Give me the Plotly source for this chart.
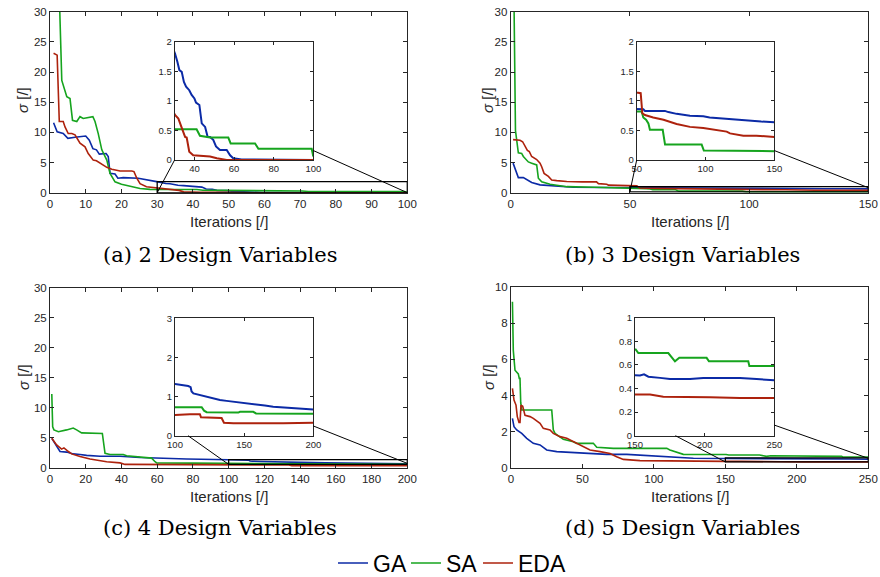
import plotly.graph_objects as go

# ---------------- data ----------------
# Panel (a) 2 design variables
ga_a_x = [1, 2, 3.7, 5, 7, 9, 10, 11, 12, 13, 13.8, 15.7, 16.3, 16.8, 18.2, 19, 20.5, 24.7, 27, 29, 30.2, 31.4, 32.4, 33.6, 34.7, 35.8, 37.4, 38.6, 40, 40.8, 42.5, 43.7, 45.4, 46.7, 47.9, 49.5, 50.9, 52.9, 56.3, 58, 59.6, 63.8, 100]
ga_a_y = [11.6, 10.1, 9.8, 9.0, 9.2, 9.3, 9.4, 8.7, 7.3, 7.1, 6.4, 6.5, 6.0, 3.2, 3.1, 2.4, 2.5, 2.4, 2.1, 1.9, 1.80, 1.66, 1.52, 1.49, 1.32, 1.24, 1.18, 1.10, 1.04, 0.97, 0.93, 0.62, 0.56, 0.39, 0.39, 0.34, 0.23, 0.17, 0.17, 0.08, 0.03, 0.01, 0.0]
sa_a_x = [1, 2, 3.3, 4.2, 4.7, 5.6, 6.3, 7.5, 8.4, 9.3, 10.7, 12, 12.6, 13.5, 14.5, 15.9, 16.8, 18.2, 20, 22.4, 25.2, 28, 30.2, 41.1, 42.8, 47.9, 57.1, 58.3, 70.6, 72.3, 99.2, 100]
sa_a_y = [60, 45, 18.6, 17, 15.9, 15.6, 12.0, 11.8, 12.6, 12.3, 12.5, 12.6, 11.8, 9.8, 7.1, 5.4, 3.2, 1.8, 1.4, 1.1, 0.7, 0.55, 0.52, 0.52, 0.41, 0.38, 0.38, 0.28, 0.28, 0.19, 0.19, 0.06]
eda_a_x = [1, 2, 2.6, 3.7, 4.2, 5.1, 6.1, 7, 8.4, 9.8, 10.7, 12.1, 13, 14, 15.9, 17.3, 19.6, 22.9, 23.5, 24.3, 25.2, 27, 30.2, 31.9, 33.6, 35.3, 36.1, 37.4, 39.4, 42, 47.9, 51.3, 56.3, 100]
eda_a_y = [23.1, 22.8, 11.8, 11.8, 10.9, 9.8, 9.8, 9.6, 8.2, 7.6, 6.5, 5.4, 5.3, 4.9, 4.2, 3.9, 3.6, 3.6, 3.5, 2.4, 1.5, 1.0, 0.76, 0.70, 0.56, 0.39, 0.38, 0.14, 0.08, 0.07, 0.06, 0.03, 0.0, 0.0]

# Panel (b) 3 design variables
ga_b_x = [1, 3.2, 5.3, 7, 8.8, 12.3, 17.9, 26.3, 40, 50, 54.8, 56, 70.5, 73, 79, 88.7, 98.4, 103, 113, 122.6, 132, 140.5, 150]
ga_b_y = [4.9, 2.5, 2.5, 2.1, 1.7, 1.3, 1.1, 0.9, 0.87, 0.86, 0.86, 0.83, 0.83, 0.81, 0.78, 0.75, 0.74, 0.72, 0.70, 0.68, 0.66, 0.65, 0.64]
sa_b_x = [1, 2, 3.2, 4.6, 5.3, 7.4, 8.8, 10.9, 11.6, 13, 16.5, 19.3, 23.5, 35, 50, 53.6, 54.8, 56.8, 58.5, 59.6, 68.9, 70.6, 97.2, 98.8, 150]
sa_b_y = [45, 10.3, 6.6, 6.5, 6.0, 5.1, 4.9, 4.6, 2.4, 1.8, 1.4, 1.2, 1.0, 0.9, 0.82, 0.82, 0.72, 0.68, 0.62, 0.51, 0.51, 0.26, 0.26, 0.16, 0.15]
eda_b_x = [1, 3.9, 5, 6, 7, 7.8, 8.8, 10.9, 12.3, 13, 14, 15.8, 17.2, 19.3, 23.5, 30, 36, 36.8, 40.3, 41, 48, 50, 52.9, 54.1, 56, 62, 69.5, 79, 88.7, 98.4, 105.7, 115.4, 117.8, 127.5, 137, 150]
eda_b_y = [8.8, 8.7, 8.45, 7.6, 7.0, 6.8, 6.0, 5.5, 4.9, 4.3, 3.2, 2.7, 2.1, 2.0, 1.85, 1.8, 1.8, 1.5, 1.4, 1.25, 1.15, 1.14, 1.13, 0.79, 0.76, 0.72, 0.68, 0.61, 0.56, 0.54, 0.51, 0.48, 0.45, 0.41, 0.41, 0.39]

# Panel (c) 4 design variables
ga_c_x = [1, 3.7, 5.6, 9.3, 13, 16.8, 20.5, 28, 39.2, 50.4, 61.6, 76.5, 100, 103.6, 109.6, 111.3, 112, 113.3, 118, 124, 128.9, 132.5, 137.3, 147, 154.2, 161.4, 165, 171, 178.3, 187.9, 200]
ga_c_y = [4.9, 3.5, 2.7, 2.6, 2.3, 2.2, 2.05, 1.9, 1.9, 1.7, 1.55, 1.45, 1.32, 1.30, 1.27, 1.24, 1.13, 1.08, 1.04, 0.98, 0.95, 0.91, 0.89, 0.85, 0.82, 0.80, 0.77, 0.74, 0.72, 0.70, 0.67]
sa_c_x = [1, 1.5, 2.2, 4.7, 9.3, 13, 14.9, 17.7, 29.3, 30.8, 33.6, 41, 42.9, 50.4, 56.9, 58.8, 59.7, 80, 100, 119.3, 121, 122.9, 145.8, 147, 156.6, 158.6, 200]
sa_c_y = [12.3, 6.8, 6.3, 6.0, 6.3, 6.6, 6.3, 5.8, 5.7, 2.4, 2.2, 2.2, 2.0, 1.8, 1.6, 1.0, 0.8, 0.76, 0.73, 0.73, 0.64, 0.60, 0.59, 0.61, 0.61, 0.57, 0.56]
eda_c_x = [1, 3.7, 6.5, 7.8, 10.3, 12.1, 16.8, 22.4, 31.7, 39.2, 42, 84, 100, 110.8, 118, 118.8, 133.7, 135.4, 142.2, 178.3, 200]
eda_c_y = [4.9, 3.8, 3.1, 3.3, 2.7, 2.3, 1.85, 1.45, 1.0, 0.8, 0.55, 0.55, 0.53, 0.55, 0.55, 0.47, 0.45, 0.33, 0.32, 0.32, 0.33]

# Panel (d) 5 design variables
ga_d_x = [1, 2.1, 4, 7.5, 11, 15.6, 20.3, 25, 32, 43.6, 55.3, 67, 81, 90.3, 99.6, 113.6, 127.6, 150, 153.6, 156.5, 159.6, 168, 175.1, 189.5, 199, 213.4, 225.4, 237.3, 250]
ga_d_y = [2.73, 2.27, 2.09, 1.9, 1.63, 1.35, 1.26, 0.98, 0.89, 0.83, 0.79, 0.74, 0.74, 0.70, 0.66, 0.57, 0.52, 0.51, 0.51, 0.52, 0.50, 0.49, 0.48, 0.48, 0.49, 0.49, 0.49, 0.48, 0.47]
sa_d_x = [1, 1.6, 2.8, 5.1, 5.8, 6.3, 6.8, 7.5, 28.5, 29.6, 30.8, 34.3, 36.6, 43.6, 46, 57.6, 60, 71.6, 109, 111.2, 118.2, 120.6, 150.5, 152.4, 173.9, 176.3, 178.7, 181.8, 201.4, 203.1, 231.3, 232.1, 250]
sa_d_y = [9.2, 6.5, 5.4, 5.2, 4.95, 4.95, 3.6, 3.2, 3.2, 2.1, 1.9, 1.7, 1.57, 1.44, 1.35, 1.35, 1.13, 1.07, 1.07, 0.98, 0.8, 0.74, 0.73, 0.70, 0.70, 0.66, 0.63, 0.66, 0.66, 0.63, 0.63, 0.59, 0.59]
eda_d_x = [1, 2.1, 3.5, 4.4, 5.6, 6.3, 7, 8.2, 9.8, 13.3, 15.6, 20.3, 22.6, 27.3, 29.6, 34.3, 39, 46, 50.6, 55.3, 62.3, 69.3, 73.9, 78.6, 90.3, 113.6, 150, 160.8, 170.3, 189.5, 203.8, 225.4, 250]
eda_d_y = [4.4, 3.75, 3.47, 2.83, 2.5, 2.5, 3.47, 3.4, 2.9, 2.83, 2.73, 2.46, 2.18, 2.09, 1.9, 1.72, 1.63, 1.35, 1.16, 0.98, 0.89, 0.79, 0.61, 0.46, 0.39, 0.36, 0.35, 0.35, 0.33, 0.33, 0.325, 0.32, 0.32]

series_names = ["GA", "SA", "EDA"]
captions = ["(a) 2 Design Variables", "(b) 3 Design Variables",
            "(c) 4 Design Variables", "(d) 5 Design Variables"]
x_label = "Iterations [/]"
y_label = "<i>σ</i> [/]"

# ---------------- styling / layout ----------------
W, H = 880, 577
colors = {"GA": "#0b2aa6", "SA": "#16a41e", "EDA": "#ad220d"}
SANS = "Liberation Sans, Arial, sans-serif"
SERIF = "DejaVu Serif, serif"
TICKC = "#262626"
legend_ids = ["legend", "legend2", "legend3"]
legend_left_px = [333, 406, 478]


def xd(a, b):
    return [a / W, b / W]


def yd(top, bot):
    return [1 - bot / H, 1 - top / H]


panels = [
    dict(data=[(ga_a_x, ga_a_y), (sa_a_x, sa_a_y), (eda_a_x, eda_a_y)],
         mx=xd(50, 407.3), my=yd(11.7, 192.7), mxr=[0, 100], myr=[0, 30], mxt=list(range(0, 101, 10)), myt=list(range(0, 31, 5)),
         ix=xd(174.6, 313.3), iy=yd(41.7, 160), ixr=[30, 100], iyr=[0, 2], ixt=[40, 60, 80, 100], iyt=[0, 0.5, 1, 1.5, 2],
         rect=[30, 100, 0, 1.82], f1=0.0, l2y=0.0, f2=0.08,
         cap=(220.5, 255), xl=(228.7, 222), yl=(23, 100)),
    dict(data=[(ga_b_x, ga_b_y), (sa_b_x, sa_b_y), (eda_b_x, eda_b_y)],
         mx=xd(510.7, 868.3), my=yd(11.7, 192.7), mxr=[0, 150], myr=[0, 30], mxt=[0, 50, 100, 150], myt=list(range(0, 31, 5)),
         ix=xd(636.7, 774.3), iy=yd(41.7, 160), ixr=[50, 150], iyr=[0, 2], ixt=[50, 100, 150], iyt=[0, 0.5, 1, 1.5, 2],
         rect=[50, 150, 0.15, 1.0], f1=0.0, l2y=0.83, f2=0.08,
         cap=(682, 255), xl=(689.5, 222), yl=(488, 100)),
    dict(data=[(ga_c_x, ga_c_y), (sa_c_x, sa_c_y), (eda_c_x, eda_c_y)],
         mx=xd(50, 407.3), my=yd(287.7, 467.7), mxr=[0, 200], myr=[0, 30], mxt=list(range(0, 201, 20)), myt=list(range(0, 31, 5)),
         ix=xd(175, 313.3), iy=yd(318.3, 435.7), ixr=[100, 200], iyr=[0, 3], ixt=[100, 150, 200], iyt=[0, 1, 2, 3],
         rect=[100, 200, 0.55, 1.35], f1=0.094, l2y=0.72, f2=0.083,
         cap=(220.5, 528), xl=(228.7, 497), yl=(23, 377)),
    dict(data=[(ga_d_x, ga_d_y), (sa_d_x, sa_d_y), (eda_d_x, eda_d_y)],
         mx=xd(511, 868.3), my=yd(287.2, 467.7), mxr=[0, 250], myr=[0, 10], mxt=[0, 50, 100, 150, 200, 250], myt=[0, 2, 4, 6, 8, 10],
         ix=xd(635, 774.3), iy=yd(317.7, 435.7), ixr=[150, 250], iyr=[0, 1], ixt=[150, 200, 250], iyt=[0, 0.2, 0.4, 0.6, 0.8, 1],
         rect=[150, 250, 0.32, 0.54], f1=0.29, l2y=0.52, f2=0.09,
         cap=(682, 528), xl=(689.5, 497), yl=(488, 377)),
]

fig = go.Figure()
layout = dict(width=W, height=H, margin=dict(l=0, r=0, t=0, b=0, autoexpand=False),
              paper_bgcolor="white", plot_bgcolor="white", showlegend=True)
shapes, annotations = [], []


def axis_common(size, ticklen):
    return dict(showline=True, linecolor=TICKC, linewidth=1, mirror="ticks",
                ticks="inside", ticklen=ticklen, tickwidth=1, tickcolor=TICKC,
                showgrid=False, zeroline=False, automargin=False,
                tickfont=dict(family=SANS, size=size, color=TICKC))


def to_paper(v, rng, dom):
    return dom[0] + (v - rng[0]) / (rng[1] - rng[0]) * (dom[1] - dom[0])


for i, p in enumerate(panels):
    mi, ii = 2 * i + 1, 2 * i + 2
    for j, (xs, ys) in enumerate(p["data"]):
        name = series_names[j]
        for ax, lw in ((mi, 1.6), (ii, 2.0)):
            fig.add_trace(go.Scatter(
                x=xs, y=ys, mode="lines", name=name,
                line=dict(color=colors[name], width=lw),
                xaxis="x" + str(ax), yaxis="y" + str(ax),
                showlegend=(i == 0 and ax == mi), legend=legend_ids[j],
                hoverinfo="skip"))
    sfx_m = "" if mi == 1 else str(mi)
    layout["xaxis" + sfx_m] = dict(domain=p["mx"], range=p["mxr"], tickvals=p["mxt"],
                                   anchor="y" + str(mi), **axis_common(11.5, 4))
    layout["yaxis" + sfx_m] = dict(domain=p["my"], range=p["myr"], tickvals=p["myt"],
                                   anchor="x" + str(mi), **axis_common(11.5, 4))
    layout["xaxis" + str(ii)] = dict(domain=p["ix"], range=p["ixr"], tickvals=p["ixt"],
                                     anchor="y" + str(ii), **axis_common(9.5, 3))
    layout["yaxis" + str(ii)] = dict(domain=p["iy"], range=p["iyr"], tickvals=p["iyt"],
                                     anchor="x" + str(ii), **axis_common(9.5, 3))

    # zoom rectangle on main axes
    x0, x1, y0, y1 = p["rect"]
    shapes.append(dict(type="rect", xref="x" + str(mi), yref="y" + str(mi),
                       x0=x0, x1=x1, y0=y0, y1=y1, line=dict(color="black", width=1.3)))
    # connector lines (paper coords)
    ax0 = to_paper(x0, p["mxr"], p["mx"]); ax1 = to_paper(x1, p["mxr"], p["mx"])
    ay0 = to_paper(y0, p["myr"], p["my"]); ay2 = to_paper(p["l2y"], p["myr"], p["my"])
    ix0, ix1 = p["ix"]; iy0, iy1 = p["iy"]
    shapes.append(dict(type="line", xref="paper", yref="paper",
                       x0=ax0, y0=ay0, x1=ix0 + p["f1"] * (ix1 - ix0), y1=iy0,
                       line=dict(color="black", width=1)))
    shapes.append(dict(type="line", xref="paper", yref="paper",
                       x0=ax1, y0=ay2, x1=ix1, y1=iy0 + p["f2"] * (iy1 - iy0),
                       line=dict(color="black", width=1)))

    # axis titles and caption
    annotations.append(dict(text=x_label, x=p["xl"][0] / W, y=1 - p["xl"][1] / H, xref="paper", yref="paper",
                            showarrow=False, xanchor="center", yanchor="middle",
                            font=dict(family=SANS, size=15, color=TICKC)))
    annotations.append(dict(text=y_label, x=p["yl"][0] / W, y=1 - p["yl"][1] / H, xref="paper", yref="paper",
                            showarrow=False, xanchor="center", yanchor="middle", textangle=-90,
                            font=dict(family=SANS, size=15, color=TICKC)))
    annotations.append(dict(text=captions[i], x=p["cap"][0] / W, y=1 - p["cap"][1] / H, xref="paper", yref="paper",
                            showarrow=False, xanchor="center", yanchor="middle",
                            font=dict(family=SERIF, size=21, color="black")))

layout["shapes"] = shapes
layout["annotations"] = annotations
for lid, lx in zip(legend_ids, legend_left_px):
    layout[lid] = dict(orientation="h", x=lx / W, xanchor="left", y=1 - 563 / H, yanchor="middle",
                       font=dict(family=SANS, size=23, color="black"), itemwidth=30,
                       bgcolor="rgba(0,0,0,0)")
fig.update_layout(**layout)
fig.write_html("out.html", config={"displayModeBar": False},
               post_script="document.body.style.margin='0';document.body.style.overflow='hidden';")
